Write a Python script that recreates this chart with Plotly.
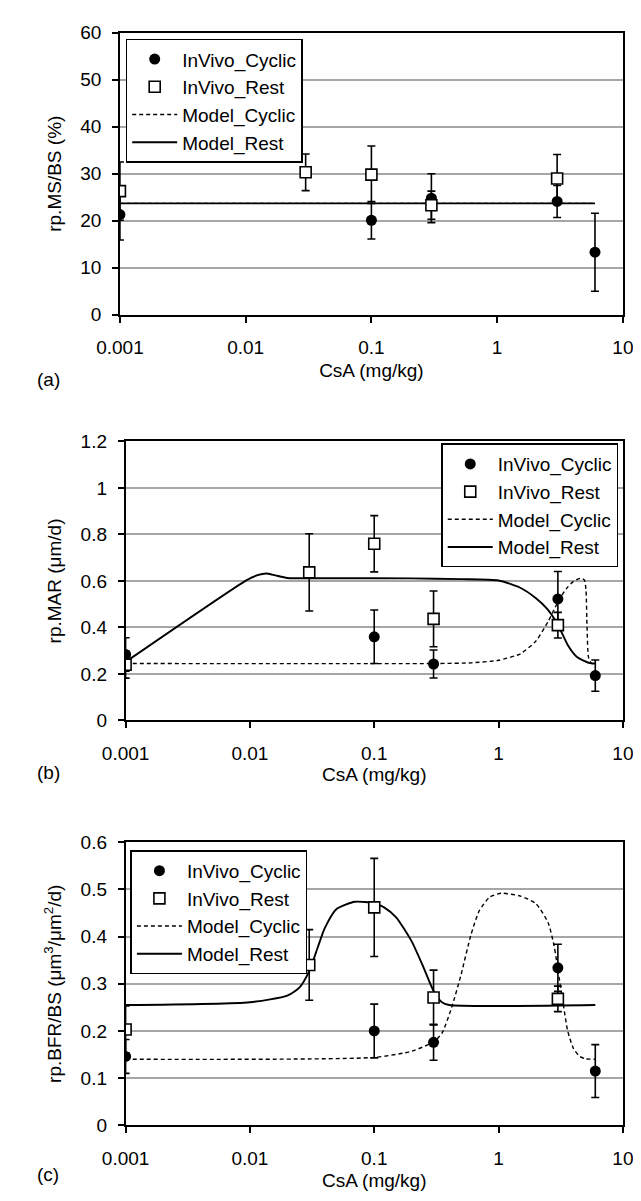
import plotly.graph_objects as go
from plotly.subplots import make_subplots

# ---------------- data ----------------
cyc_x = [0.001, 0.1, 0.3, 3, 6]
rest_x = [0.001, 0.03, 0.1, 0.3, 3]

# (a) rp.MS/BS (%)
a_cyc = [21.3, 20.1, 24.8, 24.1, 13.3]
a_cyc_err = [5.4, 4.0, 5.2, 3.4, 8.3]
a_rest = [26.3, 30.3, 29.8, 23.3, 29.0]
a_rest_err = [6.2, 3.9, 6.1, 3.0, 5.1]
a_model_x = [0.001, 6]
a_model_cyc = [23.7, 23.7]
a_model_rest = [23.7, 23.7]

# (b) rp.MAR (um/d)
b_cyc = [0.284, 0.360, 0.243, 0.523, 0.193]
b_cyc_err = [0.072, 0.115, 0.060, 0.118, 0.067]
b_rest = [0.240, 0.637, 0.760, 0.437, 0.410]
b_rest_err = [0.058, 0.166, 0.121, 0.120, 0.055]
b_model_rest_x = [0.001, 0.0095, 0.0115, 0.0135, 0.016, 0.02, 0.05, 0.2, 0.5, 1.0,
                  1.48, 2.0, 2.45, 3.0, 3.6, 4.3, 5.4, 6.0]
b_model_rest = [0.252, 0.605, 0.625, 0.632, 0.624, 0.613, 0.612, 0.611, 0.608, 0.602,
                0.572, 0.526, 0.481, 0.412, 0.325, 0.272, 0.247, 0.245]
b_model_cyc_x = [0.001, 0.3, 0.6, 1.0, 1.5, 2.0, 2.5, 3.0, 3.5, 4.0, 4.6, 4.9,
                 5.05, 5.15, 5.3, 5.6, 6.0]
b_model_cyc = [0.245, 0.245, 0.248, 0.259, 0.287, 0.342, 0.425, 0.509, 0.566, 0.598,
               0.612, 0.605, 0.560, 0.400, 0.270, 0.245, 0.245]

# (c) rp.BFR/BS
c_cyc = [0.146, 0.200, 0.176, 0.334, 0.115]
c_cyc_err = [0.036, 0.057, 0.038, 0.050, 0.056]
c_rest = [0.203, 0.340, 0.462, 0.271, 0.268]
c_rest_err = [0.050, 0.075, 0.104, 0.058, 0.027]
c_model_rest_x = [0.001, 0.01, 0.02, 0.025, 0.03, 0.035, 0.04, 0.05, 0.07, 0.1, 0.12,
                  0.15, 0.2, 0.25, 0.3, 0.35, 0.4, 6.0]
c_model_rest = [0.255, 0.261, 0.275, 0.292, 0.327, 0.376, 0.418, 0.459, 0.474, 0.471,
                0.462, 0.441, 0.390, 0.334, 0.285, 0.261, 0.255, 0.255]
c_model_cyc_x = [0.001, 0.1, 0.2, 0.3, 0.35, 0.42, 0.5, 0.6, 0.7, 0.85, 1.05, 1.5,
                 2.0, 2.5, 2.8, 3.0, 3.3, 3.6, 4.0, 4.5, 5.0, 6.0]
c_model_cyc = [0.140, 0.144, 0.157, 0.177, 0.195, 0.250, 0.320, 0.404, 0.455, 0.484,
               0.492, 0.486, 0.470, 0.430, 0.380, 0.330, 0.260, 0.200, 0.163, 0.146,
               0.141, 0.140]

x_tickvals = [0.001, 0.01, 0.1, 1, 10]
x_ticktext = ["0.001", "0.01", "0.1", "1", "10"]

panels = [
    dict(cyc=a_cyc, cyc_err=a_cyc_err, rest=a_rest, rest_err=a_rest_err,
         mcx=a_model_x, mc=a_model_cyc, mrx=a_model_x, mr=a_model_rest,
         yrange=[0, 60], dtick=10, ytitle="rp.MS/BS (%)", label="(a)"),
    dict(cyc=b_cyc, cyc_err=b_cyc_err, rest=b_rest, rest_err=b_rest_err,
         mcx=b_model_cyc_x, mc=b_model_cyc, mrx=b_model_rest_x, mr=b_model_rest,
         yrange=[0, 1.2], dtick=0.2, ytitle="rp.MAR (\u03bcm/d)", label="(b)"),
    dict(cyc=c_cyc, cyc_err=c_cyc_err, rest=c_rest, rest_err=c_rest_err,
         mcx=c_model_cyc_x, mc=c_model_cyc, mrx=c_model_rest_x, mr=c_model_rest,
         yrange=[0, 0.6], dtick=0.1,
         ytitle="rp.BFR/BS (\u03bcm<sup>3</sup>/\u03bcm<sup>2</sup>/d)", label="(c)"),
]

W, H = 641, 1201
FONT = "Liberation Sans, Arial, sans-serif"

# pixel layout (left, right, top, bottom) of each plot area
boxes = [(93, 625, 15, 302), (99, 625, 431, 715), (99, 625, 839, 1127)]
legend_pos = [
    dict(x=99 / W, y=1 - 21 / H, xanchor="left", yanchor="top"),
    dict(x=620 / W, y=1 - 433 / H, xanchor="right", yanchor="top"),
    dict(x=104 / W, y=1 - 847 / H, xanchor="left", yanchor="top"),
]
label_y = [368, 768, 1177]
xtitle_standoff = [6, 1, 6]

fig = make_subplots(rows=3, cols=1)

for i, p in enumerate(panels):
    r = i + 1
    lg = "legend" if i == 0 else f"legend{i + 1}"
    fig.add_trace(go.Scatter(x=p["mcx"], y=p["mc"], mode="lines", name="Model_Cyclic",
                             line=dict(color="black", width=1.4, dash="4px,3px",
                                       shape="spline", smoothing=0.6),
                             legend=lg, legendrank=3), row=r, col=1)
    fig.add_trace(go.Scatter(x=p["mrx"], y=p["mr"], mode="lines", name="Model_Rest",
                             line=dict(color="black", width=1.9,
                                       shape="spline", smoothing=0.6),
                             legend=lg, legendrank=4), row=r, col=1)
    fig.add_trace(go.Scatter(x=cyc_x, y=p["cyc"], mode="markers", name="InVivo_Cyclic",
                             marker=dict(symbol="circle", size=11, color="black"),
                             error_y=dict(type="data", array=p["cyc_err"], color="black",
                                          thickness=1.6, width=4),
                             legend=lg, legendrank=1), row=r, col=1)
    fig.add_trace(go.Scatter(x=rest_x, y=p["rest"], mode="markers", name="InVivo_Rest",
                             marker=dict(symbol="square", size=11, color="white",
                                         line=dict(color="black", width=1.6)),
                             error_y=dict(type="data", array=p["rest_err"], color="black",
                                          thickness=1.6, width=4),
                             legend=lg, legendrank=2), row=r, col=1)

    L, R, T, B = boxes[i]
    xa = "xaxis" if i == 0 else f"xaxis{r}"
    ya = "yaxis" if i == 0 else f"yaxis{r}"
    fig.layout[xa].update(
        type="log", range=[-3, 1], domain=[L / W, R / W],
        tickvals=x_tickvals, ticktext=x_ticktext,
        showgrid=False, showline=True, linecolor="black", linewidth=1.6, mirror=True,
        ticks="outside", ticklen=6, tickwidth=1.6, tickcolor="black",
        ticklabelstandoff=9,
        tickfont=dict(size=19, color="black", family=FONT),
        title=dict(text="CsA (mg/kg)", font=dict(size=19, color="black", family=FONT),
                   standoff=xtitle_standoff[i]),
        zeroline=False)
    fig.layout[ya].update(
        range=p["yrange"], dtick=p["dtick"], domain=[1 - B / H, 1 - T / H],
        showgrid=True, gridcolor="#a6a6a6", gridwidth=1.6,
        showline=True, linecolor="black", linewidth=1.6, mirror=True,
        ticks="outside", ticklen=6, tickwidth=1.6, tickcolor="black",
        ticklabelstandoff=7,
        tickfont=dict(size=19, color="black", family=FONT),
        title=dict(text=p["ytitle"], font=dict(size=19, color="black", family=FONT),
                   standoff=14),
        zeroline=False)

    fig.add_annotation(text=p["label"], xref="paper", yref="paper",
                       x=3 / W, y=1 - label_y[i] / H, xanchor="left", yanchor="middle",
                       showarrow=False, font=dict(size=19, color="black", family=FONT))

legend_style = dict(bgcolor="white", bordercolor="black", borderwidth=1.6,
                    font=dict(size=19, color="black", family=FONT),
                    itemwidth=45, tracegroupgap=0)
fig.update_layout(
    width=W, height=H, autosize=False,
    margin=dict(l=0, r=0, t=0, b=0),
    paper_bgcolor="white", plot_bgcolor="white",
    showlegend=True,
    legend=dict(**legend_pos[0], **legend_style),
    legend2=dict(**legend_pos[1], **legend_style),
    legend3=dict(**legend_pos[2], **legend_style),
    font=dict(family=FONT, color="black"),
)

fig.write_html("out.html")
